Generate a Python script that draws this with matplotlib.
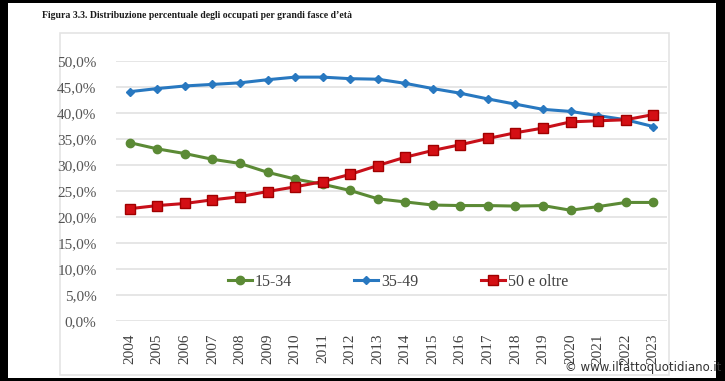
import matplotlib
matplotlib.use("Agg")
import matplotlib.pyplot as plt
from matplotlib.patches import Rectangle
from matplotlib.ticker import FuncFormatter

# ---- data ----
years = list(range(2004, 2024))
age_15_34 = [34.3, 33.1, 32.2, 31.1, 30.3, 28.6, 27.3, 26.3, 25.1, 23.5,
             22.9, 22.3, 22.2, 22.2, 22.1, 22.2, 21.3, 22.0, 22.8, 22.8]
age_35_49 = [44.1, 44.7, 45.2, 45.5, 45.8, 46.4, 46.9, 46.9, 46.6, 46.5,
             45.7, 44.7, 43.8, 42.7, 41.7, 40.7, 40.3, 39.5, 38.7, 37.4]
age_50_plus = [21.6, 22.2, 22.6, 23.3, 23.9, 24.9, 25.8, 26.8, 28.2, 29.9,
               31.5, 32.8, 33.9, 35.1, 36.2, 37.1, 38.3, 38.5, 38.7, 39.7]
series_labels = ["15-34", "35-49", "50 e oltre"]
title = "Figura 3.3. Distribuzione percentuale degli occupati per grandi fasce d\u2019et\u00e0"

W, H = 725, 381
plt.rcParams["font.family"] = ["Liberation Serif", "DejaVu Serif"]

fig = plt.figure(figsize=(W / 100, H / 100), dpi=100, facecolor="black")

# white page inside the black frame
fig.patches.append(Rectangle((8 / W, 1 - 378 / H), (716 - 8) / W, (378 - 3) / H,
                             transform=fig.transFigure, facecolor="white",
                             edgecolor="none", zorder=-2))
# light chart box
fig.patches.append(Rectangle((60 / W, 1 - 375 / H), (669 - 60) / W, (375 - 33) / H,
                             transform=fig.transFigure, facecolor="none",
                             edgecolor="#e4e4e4", linewidth=1.2, zorder=-1))

fig.text(42 / W, 1 - 15 / H, title, fontsize=7.0, fontweight="bold",
         color="#1a1a1a", va="center", ha="left")

ax = fig.add_axes([116 / W, 1 - 321 / H, (667 - 116) / W, (321 - 61) / H])
ax.set_zorder(2)
ax.set_facecolor("none")

x = list(range(len(years)))
ax.plot(x, age_15_34, color="#5b8a35", lw=2.2, marker="o", ms=6,
        markerfacecolor="#5b8a35", markeredgecolor="#5b8a35", label=series_labels[0])
ax.plot(x, age_35_49, color="#2878c0", lw=2.2, marker="D", ms=4,
        markerfacecolor="#2878c0", markeredgecolor="#2878c0", label=series_labels[1])
ax.plot(x, age_50_plus, color="#c8101a", lw=2.2, marker="s", ms=7,
        markerfacecolor="#d40f14", markeredgecolor="#a00000", label=series_labels[2])

ax.set_xlim(-0.5, len(years) - 0.5)
ax.set_ylim(0, 50)
ax.set_yticks(range(0, 51, 5))
ax.yaxis.set_major_formatter(FuncFormatter(lambda v, p: f"{v:.1f}%".replace(".", ",")))
ax.set_xticks(x)
ax.set_xticklabels([str(y) for y in years], rotation=90)

ax.grid(axis="y", color="#e2e2e2", lw=1.2)
ax.set_axisbelow(True)
for s in ax.spines.values():
    s.set_visible(False)
ax.tick_params(axis="y", length=0, pad=14, labelsize=11, labelcolor="#555555")
ax.tick_params(axis="x", length=0, pad=9, labelsize=11, labelcolor="#404040")

leg = ax.legend(loc="center", bbox_to_anchor=(0.512, 0.15), ncol=3, frameon=False,
                fontsize=11.5, handlelength=1.5, handletextpad=0.2, columnspacing=3.9,
                labelcolor="#404040")

fig.text(721 / W, 1 - 367 / H, "\u00a9 www.ilfattoquotidiano.it", fontsize=8.5,
         family="DejaVu Sans", color="#333333", ha="right", va="center", zorder=5)

fig.savefig("out.png", dpi=100, facecolor="black")
